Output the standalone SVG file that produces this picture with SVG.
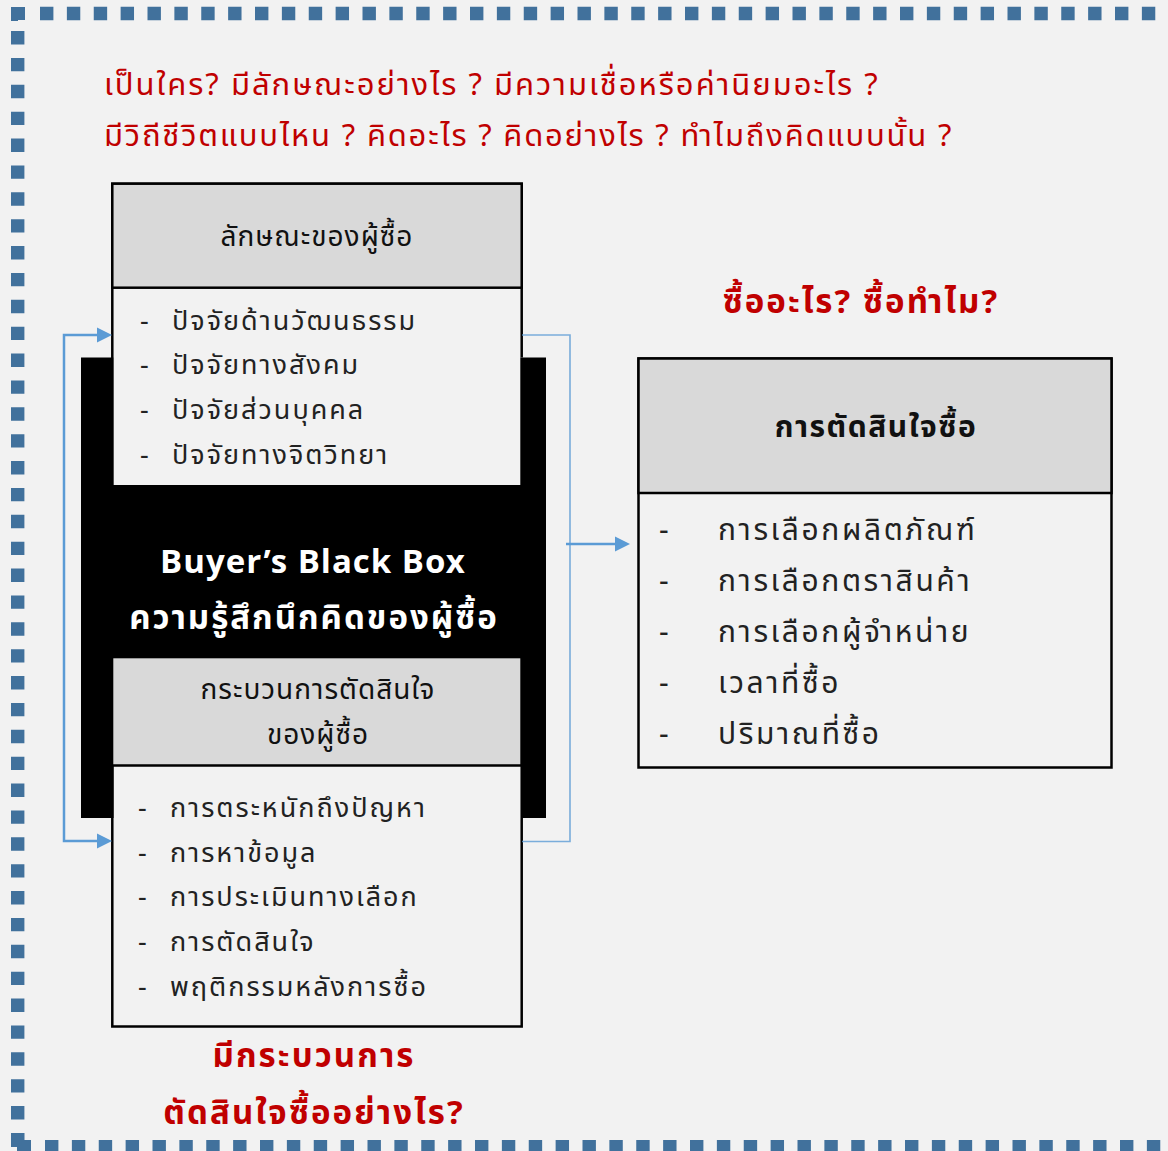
<svg xmlns="http://www.w3.org/2000/svg" width="1168" height="1151" viewBox="0 0 1168 1151">
  <style>
    text { font-family: "Noto Sans Thai", "Noto Sans", "DejaVu Sans", sans-serif; }
    .q { fill: #C00000; font-size: 31px; letter-spacing: 2px; }
    .qb { fill: #C00000; font-size: 33px; font-weight: bold; text-anchor: middle; letter-spacing: 2.1px; }
    .hd { fill: #111; font-size: 28px; text-anchor: middle; letter-spacing: 1px; }
    .hdb { fill: #111; font-size: 30px; font-weight: bold; text-anchor: middle; letter-spacing: 1.5px; }
    .it { fill: #222; font-size: 27px; letter-spacing: 2px; }
    .itr { fill: #222; font-size: 30px; letter-spacing: 2.6px; }
    .bk { fill: #fff; font-size: 33px; font-weight: bold; text-anchor: middle; }
    .box { stroke: #000; stroke-width: 2.5; }
    .dash { stroke: #41719C; stroke-width: 13.4; stroke-dasharray: 13.4 13.475; fill: none; }
  </style>

  <!-- page background -->
  <rect width="1168" height="1151" fill="#F2F2F2"/>

  <!-- dashed frame -->
  <g id="frame">
    <line class="dash" x1="40" y1="13.5" x2="1168" y2="13.5"/>
    <line class="dash" x1="17.7" y1="31" x2="17.7" y2="1125"/>
    <line class="dash" x1="45" y1="1146.7" x2="1168" y2="1146.7"/>
    <path d="M11,7 H25 V20 H18 V21 H11 Z" fill="#41719C"/>
    <path d="M11,1133 H24.5 V1140 H31 V1153 H17 V1147 H11 Z" fill="#41719C"/>
  </g>

  <!-- questions -->
  <g id="questions">
    <text class="q" x="104" y="95">เป็นใคร? มีลักษณะอย่างไร ? มีความเชื่อหรือค่านิยมอะไร ?</text>
    <text class="q" x="104" y="146" style="letter-spacing:1.8px">มีวิถีชีวิตแบบไหน ? คิดอะไร ? คิดอย่างไร ? ทำไมถึงคิดแบบนั้น ?</text>
  </g>

  <!-- black box -->
  <g id="black-box">
    <rect x="81" y="357.5" width="465" height="460.5" fill="#000"/>
    <text class="bk" x="313" y="573" style="letter-spacing:1px">Buyer’s Black Box</text>
    <text class="bk" x="314" y="629" style="letter-spacing:2px">ความรู้สึกนึกคิดของผู้ซื้อ</text>
  </g>

  <!-- buyer characteristics -->
  <g id="characteristics">
    <rect x="113.3" y="288" width="407" height="197" fill="#F2F2F2"/>
    <path class="box" d="M112.3,485 V183.7 H521.7 V357.5" fill="none"/>
    <rect class="box" x="112.3" y="183.7" width="409.4" height="104" fill="#D9D9D9"/>
    <text class="hd" x="317" y="246">ลักษณะของผู้ซื้อ</text>
    <text class="it" x="140" y="330">-</text><text class="it" x="172" y="330">ปัจจัยด้านวัฒนธรรม</text>
    <text class="it" x="140" y="374">-</text><text class="it" x="172" y="374">ปัจจัยทางสังคม</text>
    <text class="it" x="140" y="419">-</text><text class="it" x="172" y="419">ปัจจัยส่วนบุคคล</text>
    <text class="it" x="140" y="464">-</text><text class="it" x="172" y="464">ปัจจัยทางจิตวิทยา</text>
  </g>

  <!-- decision process -->
  <g id="process">
    <rect x="113.3" y="658.3" width="407" height="107" fill="#D9D9D9"/>
    <rect class="box" x="112.3" y="765.5" width="409.4" height="261" fill="#F2F2F2"/>
    <line class="box" x1="112.3" y1="765.5" x2="112.3" y2="818"/>
    <text class="hd" x="318" y="699">กระบวนการตัดสินใจ</text>
    <text class="hd" x="318" y="744">ของผู้ซื้อ</text>
    <text class="it" x="138" y="817">-</text><text class="it" x="170" y="817">การตระหนักถึงปัญหา</text>
    <text class="it" x="138" y="862">-</text><text class="it" x="170" y="862">การหาข้อมูล</text>
    <text class="it" x="138" y="906">-</text><text class="it" x="170" y="906">การประเมินทางเลือก</text>
    <text class="it" x="138" y="951">-</text><text class="it" x="170" y="951">การตัดสินใจ</text>
    <text class="it" x="138" y="996">-</text><text class="it" x="170" y="996">พฤติกรรมหลังการซื้อ</text>
  </g>

  <!-- purchase decision -->
  <g id="decision">
    <rect class="box" x="638.5" y="358.5" width="473" height="409" fill="#F2F2F2"/>
    <rect class="box" x="638.5" y="358.5" width="473" height="134.5" fill="#D9D9D9"/>
    <text class="hdb" x="876" y="437">การตัดสินใจซื้อ</text>
    <text class="itr" x="659" y="540">-</text><text class="itr" x="718" y="540">การเลือกผลิตภัณฑ์</text>
    <text class="itr" x="659" y="591">-</text><text class="itr" x="718" y="591">การเลือกตราสินค้า</text>
    <text class="itr" x="659" y="642">-</text><text class="itr" x="718" y="642">การเลือกผู้จำหน่าย</text>
    <text class="itr" x="659" y="693">-</text><text class="itr" x="718" y="693">เวลาที่ซื้อ</text>
    <text class="itr" x="659" y="744">-</text><text class="itr" x="718" y="744">ปริมาณที่ซื้อ</text>
  </g>

  <!-- red captions -->
  <g id="captions">
    <text class="qb" x="861" y="313">ซื้ออะไร? ซื้อทำไม?</text>
    <text class="qb" x="314" y="1067">มีกระบวนการ</text>
    <text class="qb" x="314" y="1124">ตัดสินใจซื้ออย่างไร?</text>
  </g>

  <!-- connectors -->
  <g id="connectors" fill="none">
    <path d="M522,335 H570 V841.5 H522" stroke="#5B9BD5" stroke-opacity="0.8" stroke-width="1.6"/>
    <path d="M97,841 H64 V335 H97" stroke="#5B9BD5" stroke-width="2.5"/>
    <path d="M97,327.5 L112,335 L97,342.5 Z" fill="#5B9BD5"/>
    <path d="M97,833.5 L112,841 L97,848.5 Z" fill="#5B9BD5"/>
    <path d="M566,544 H615" stroke="#5B9BD5" stroke-width="2.5"/>
    <path d="M615,536.5 L630,544 L615,551.5 Z" fill="#5B9BD5"/>
  </g>
</svg>
